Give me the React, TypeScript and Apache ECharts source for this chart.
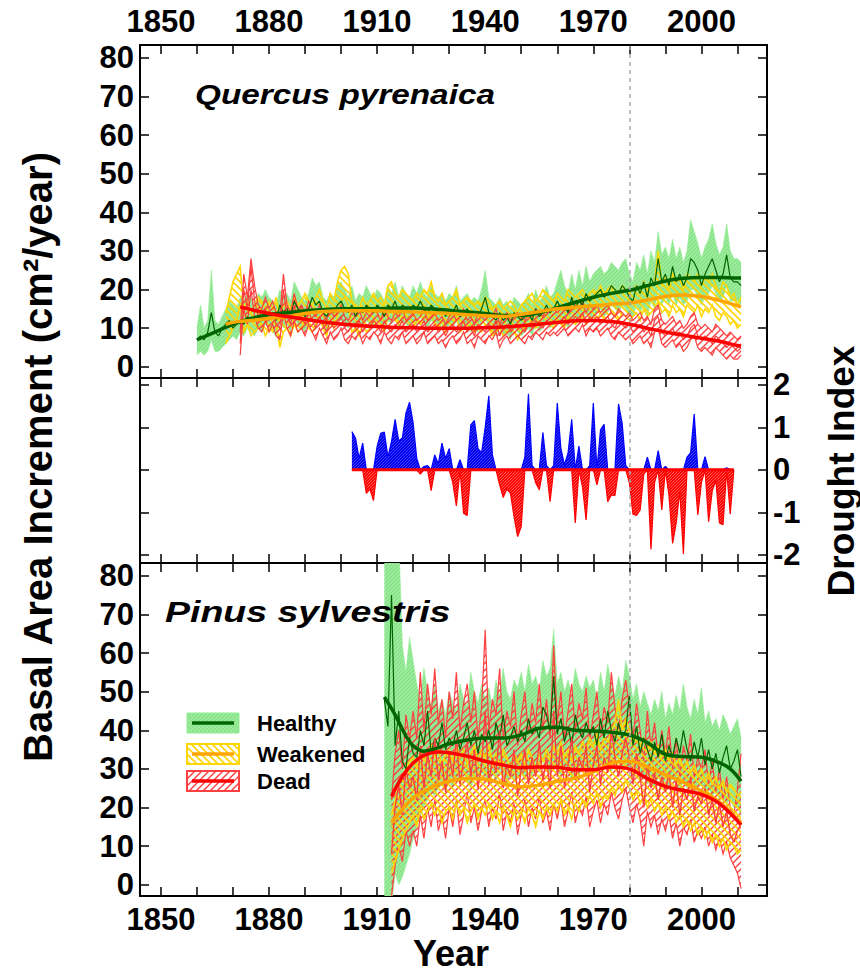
import React, { useEffect, useRef } from 'react';
import * as echarts from 'echarts';

// ---------- axes ----------
const X_MIN = 1844.2;
const X_MAX = 2018.2;
const X_TICKS = [1850, 1860, 1870, 1880, 1890, 1900, 1910, 1920, 1930, 1940, 1950, 1960, 1970, 1980, 1990, 2000, 2010];
const X_LABELS = [1850, 1880, 1910, 1940, 1970, 2000];
const BAI_TICKS = [0, 10, 20, 30, 40, 50, 60, 70, 80];
const BAI_MIN = -2.9;
const BAI_MAX = 83.3;
const DROUGHT_TICKS = [-2, -1, 0, 1, 2];
const DROUGHT_MIN = -2.19;
const DROUGHT_MAX = 2.16;
const REF_YEAR = 1980;

// ---------- Quercus pyrenaica ----------
const QP_HEALTHY_START = 1860;
const qpHealthyMean = [
  7, 8, 7, 9, 14, 9, 8, 10, 11, 12,
  10, 11, 12, 11, 13, 12, 12, 13, 12, 14,
  14, 13, 12, 16, 14, 15, 13, 17, 15, 14,
  13, 15, 18, 16, 17, 14, 13, 15, 14, 16,
  17, 15, 14, 16, 13, 15, 14, 16, 15, 14,
  16, 15, 13, 16, 15, 17, 14, 16, 15, 14,
  16, 15, 17, 15, 14, 16, 15, 14, 15, 13,
  15, 14, 16, 13, 14, 15, 13, 14, 13, 15,
  18, 14, 13, 12, 14, 12, 13, 11, 14, 13,
  12, 13, 14, 12, 15, 13, 14, 16, 14, 15,
  17, 15, 16, 14, 18, 15, 17, 16, 19, 17,
  18, 19, 20, 18, 19, 21, 20, 19, 21, 20,
  18, 17, 21, 19, 22, 18, 23, 21, 28, 22,
  24, 21, 26, 22, 24, 21, 23, 28, 27, 25,
  21, 24, 26, 28, 25, 22, 24, 29, 23, 22,
  22, 21,
];
const qpHealthyLow = [
  3, 4, 3, 4, 7, 4, 4, 5, 6, 7,
  8, 7, 9, 8, 10, 9, 8, 10, 9, 11,
  10, 9, 8, 12, 10, 11, 9, 13, 11, 10,
  9, 11, 13, 12, 12, 10, 9, 11, 10, 12,
  12, 11, 10, 12, 9, 11, 10, 12, 11, 10,
  12, 11, 9, 12, 11, 13, 10, 12, 11, 10,
  12, 11, 13, 11, 10, 12, 11, 10, 11, 9,
  11, 10, 12, 9, 10, 11, 9, 10, 9, 11,
  13, 10, 9, 8, 10, 8, 9, 7, 10, 9,
  8, 9, 10, 8, 11, 9, 10, 12, 10, 11,
  12, 11, 12, 10, 13, 11, 12, 12, 14, 12,
  13, 14, 15, 13, 14, 16, 15, 14, 16, 15,
  13, 13, 16, 14, 16, 13, 17, 15, 20, 16,
  18, 16, 19, 16, 18, 16, 17, 20, 20, 18,
  16, 18, 19, 21, 19, 17, 18, 21, 17, 17,
  17, 16,
];
const qpHealthyHigh = [
  10, 16, 10, 12, 25, 12, 11, 13, 15, 17,
  16, 15, 18, 17, 19, 18, 16, 19, 18, 20,
  18, 17, 16, 20, 18, 19, 17, 22, 20, 18,
  17, 19, 23, 21, 22, 18, 17, 19, 18, 21,
  22, 20, 18, 21, 17, 19, 18, 21, 19, 18,
  20, 19, 17, 21, 19, 22, 18, 21, 19, 18,
  21, 19, 22, 19, 18, 21, 19, 18, 19, 17,
  19, 18, 21, 17, 18, 19, 17, 18, 17, 20,
  25, 18, 17, 16, 18, 16, 17, 15, 18, 17,
  16, 17, 19, 16, 20, 17, 18, 21, 18, 19,
  22, 25, 21, 19, 24, 20, 25, 21, 26, 22,
  24, 25, 26, 24, 25, 27, 26, 25, 27, 28,
  24, 22, 27, 25, 29, 24, 30, 27, 35, 29,
  31, 28, 33, 28, 31, 27, 30, 38, 35, 32,
  28, 31, 33, 37, 32, 29, 31, 37, 30, 28,
  28, 27,
];
const QP_WEAK_START = 1868;
const qpWeakLow = [
  6, 8,
  10, 12, 16, 9, 11, 8, 9, 10, 11, 8,
  10, 9, 11, 5, 9, 10, 8, 11, 9, 10,
  12, 10, 9, 11, 13, 10, 8, 12, 10, 13,
  17, 18, 16, 9, 10, 8, 11, 9, 10, 12,
  10, 11, 9, 13, 15, 12, 11, 13, 12, 11,
  10, 12, 11, 13, 12, 14, 11, 10, 12, 9,
  10, 11, 13, 9, 10, 11, 10, 9, 10, 9,
  11, 10, 8, 9, 10, 8, 9, 10, 9, 7,
  9, 10, 11, 12, 10, 11, 13, 12, 11, 10,
  12, 11, 10, 13, 12, 11, 12, 13, 11, 12,
  13, 12, 14, 12, 13, 14, 13, 12, 14, 13,
  12, 13, 14, 12, 15, 13, 14, 15, 17, 14,
  15, 13, 16, 14, 15, 13, 16, 15, 14, 16,
  13, 15, 14, 16, 13, 12, 14, 13, 11, 12,
  10, 11,
];
const qpWeakHigh = [
  14, 18,
  22, 24, 26, 15, 17, 14, 16, 18, 17, 15,
  17, 15, 18, 12, 16, 17, 15, 18, 16, 17,
  19, 17, 16, 18, 20, 17, 15, 19, 17, 22,
  25, 26, 24, 17, 16, 15, 18, 16, 17, 19,
  17, 18, 16, 21, 22, 19, 18, 20, 19, 18,
  17, 19, 18, 20, 19, 22, 18, 17, 19, 16,
  17, 18, 20, 16, 17, 18, 17, 16, 17, 16,
  18, 17, 15, 16, 17, 15, 16, 17, 16, 14,
  16, 17, 18, 19, 17, 18, 20, 19, 18, 17,
  19, 18, 17, 20, 19, 18, 19, 20, 18, 19,
  20, 19, 21, 19, 20, 21, 20, 19, 21, 20,
  19, 20, 21, 19, 22, 20, 21, 22, 30, 21,
  23, 20, 24, 22, 23, 20, 24, 23, 22, 24,
  21, 23, 22, 24, 21, 19, 22, 21, 18, 19,
  16, 18,
];
const QP_DEAD_START = 1872;
const qpDeadMean = [
  6, 20, 15, 26, 17, 13, 12, 15,
  12, 14, 11, 10, 20, 13, 11, 16, 12, 13,
  11, 14, 12, 10, 13, 11, 9, 12, 10, 11,
  13, 10, 9, 11, 10, 12, 9, 11, 10, 12,
  11, 9, 12, 10, 9, 11, 10, 12, 9, 10,
  11, 9, 10, 12, 9, 10, 11, 9, 10, 8,
  10, 11, 9, 10, 12, 9, 10, 8, 11, 10,
  9, 11, 10, 12, 8, 10, 11, 9, 10, 11,
  10, 9, 11, 10, 12, 11, 10, 12, 11, 12,
  11, 12, 13, 11, 12, 13, 12, 14, 11, 13,
  12, 13, 11, 12, 13, 11, 10, 12, 11, 10,
  11, 9, 10, 11, 9, 10, 8, 12, 13, 9,
  8, 9, 10, 8, 9, 7, 8, 10, 11, 8,
  7, 8, 7, 6, 8, 7, 6, 5, 6, 5,
  4, 5,
];
const qpDeadLow = [
  3, 15, 11, 20, 13, 10, 9, 12,
  9, 11, 8, 7, 14, 10, 8, 12, 9, 10,
  8, 11, 9, 7, 10, 8, 6, 9, 7, 8,
  10, 7, 6, 8, 7, 9, 6, 8, 7, 9,
  8, 6, 9, 7, 6, 8, 7, 9, 6, 7,
  8, 6, 7, 9, 6, 7, 8, 6, 7, 5,
  7, 8, 6, 7, 9, 6, 7, 5, 8, 7,
  6, 8, 7, 9, 5, 7, 8, 6, 7, 8,
  7, 6, 8, 7, 9, 8, 7, 9, 8, 9,
  8, 9, 10, 8, 9, 10, 9, 11, 8, 10,
  9, 10, 8, 9, 10, 8, 7, 9, 8, 7,
  8, 6, 7, 8, 6, 7, 5, 9, 10, 6,
  5, 6, 7, 5, 6, 4, 5, 7, 8, 5,
  4, 5, 4, 3, 5, 4, 3, 2, 3, 2,
  2, 3,
];
const qpDeadHigh = [
  9, 24, 18, 28, 21, 16, 15, 18,
  15, 17, 14, 13, 24, 16, 14, 19, 15, 16,
  14, 17, 15, 13, 16, 14, 12, 15, 13, 14,
  16, 13, 12, 14, 13, 15, 12, 14, 13, 15,
  14, 12, 15, 13, 12, 14, 13, 15, 12, 13,
  14, 12, 13, 15, 12, 13, 14, 12, 13, 11,
  13, 14, 12, 13, 15, 12, 13, 11, 14, 13,
  12, 14, 13, 15, 11, 13, 14, 12, 13, 14,
  13, 12, 14, 13, 15, 14, 13, 15, 14, 15,
  14, 15, 16, 14, 15, 16, 15, 17, 14, 16,
  15, 16, 14, 15, 16, 14, 13, 15, 14, 13,
  14, 12, 13, 14, 12, 13, 11, 15, 16, 12,
  11, 12, 13, 11, 12, 10, 11, 13, 14, 11,
  10, 11, 10, 9, 11, 10, 9, 8, 9, 8,
  7, 8,
];
const qpHealthySmoothYears = [1860, 1865, 1870, 1875, 1880, 1885, 1890, 1895, 1900, 1905, 1910, 1915, 1920, 1925, 1930, 1935, 1940, 1945, 1950, 1955, 1960, 1965, 1970, 1975, 1980, 1985, 1990, 1995, 2000, 2005, 2010, 2011];
const qpHealthySmooth = [7, 9, 11, 12.5, 13.5, 14, 14.5, 14.8, 15, 15, 15, 15.2, 15.2, 15, 14.6, 14.2, 13.8, 13.3, 13.3, 14, 15.3, 16.7, 18, 19, 19.8, 21, 22.2, 22.9, 23.1, 23.1, 23, 23];
const qpWeakSmoothYears = [1868, 1870, 1875, 1880, 1885, 1890, 1895, 1900, 1905, 1910, 1915, 1920, 1925, 1930, 1935, 1940, 1945, 1950, 1955, 1960, 1965, 1970, 1975, 1980, 1985, 1990, 1995, 2000, 2005, 2010, 2011];
const qpWeakSmooth = [11, 11.5, 12, 12.5, 13, 13.8, 14.3, 14.5, 14.5, 14.5, 14.3, 14.2, 14, 13.8, 13.5, 13.2, 13, 13.6, 14.3, 15, 15.4, 15.8, 16.2, 16.5, 17.3, 18.2, 18.6, 18.2, 17.2, 15.8, 15.5];
const qpDeadSmoothYears = [1872, 1875, 1880, 1885, 1890, 1895, 1900, 1905, 1910, 1915, 1920, 1925, 1930, 1935, 1940, 1945, 1950, 1955, 1960, 1965, 1970, 1975, 1980, 1985, 1990, 1995, 2000, 2005, 2010, 2011];
const qpDeadSmooth = [15.5, 14.8, 13.8, 13, 12.3, 11.6, 11.1, 10.7, 10.4, 10.2, 10.1, 10, 10, 10, 10.1, 10.3, 10.6, 11, 11.5, 11.9, 12, 11.7, 11, 10, 9, 8.2, 7.4, 6.6, 5.5, 5.3];

// ---------- Drought index ----------
const DROUGHT_START = 1903;
const droughtIndex = [
  0.9, 0.75, 0.27, 0.63, -0.55, -0.45, -0.72,
  0.55, 0.86, 0.89, 0.3, 0.67, 1.19, 0.68, 0.75, 1.33, 1.59,
  1.1, 0.27, -0.1, 0.08, 0.1, -0.49, 0.35, 0.14, 0.63, 0.27,
  0.5, -0.3, -0.85, 0.24, -1.02, -1.07, 1.06, 1.16, 0.5, 0.4,
  1.0, 1.74, 0.35, 0.0, -0.35, -0.65, -0.45, -0.55, -1.1, -1.57,
  -1.33, 0.3, 1.79, 0.1, -0.3, -0.47, 0.88, 0.1, -0.75, 0.1,
  1.57, 0.5, 0.12, 0.4, 1.19, -1.25, 0.56, -0.4, -1.18, 0.1,
  1.57, -0.35, 0.94, 1.07, -0.75, -0.59, -0.6, 1.55, 1.1, 0.1,
  -0.3, -1.04, -1.07, -0.94, -0.1, 0.3, -1.87, -0.3, 0.45, -0.94,
  0.08, -0.6, -1.73, -1.25, -0.5, -1.98, 0.3, 0.4, 1.31, -1.06,
  -0.3, 0.31, -1.22, -0.5, -0.24, -1.25, -1.29, 0.05, -1.04, 0.0,
];

// ---------- Pinus sylvestris ----------
const PS_HEALTHY_START = 1912;
const psHealthyMean = [
  48, 41, 75, 36, 45, 32, 30, 38,
  34, 33, 40, 36, 45, 34, 38, 36, 42, 35,
  38, 36, 40, 35, 38, 42, 36, 40, 34, 39,
  37, 40, 35, 42, 38, 44, 36, 38, 41, 37,
  40, 37, 43, 39, 41, 38, 46, 44, 40, 54,
  39, 43, 37, 41, 36, 44, 40, 38, 42, 39,
  41, 36, 43, 38, 45, 40, 37, 42, 38, 40,
  49, 36, 41, 34, 38, 35, 32, 37, 33, 39,
  32, 36, 33, 38, 34, 40, 35, 32, 37, 33,
  38, 31, 35, 30, 34, 29, 33, 36, 30, 32,
  35, 28,
];
const psHealthyLow = [
  -5, -5, -5, 3, 0, 2, 5, 8,
  12, 15, 18, 20, 22, 24, 23, 25, 26, 24,
  27, 25, 28, 26, 29, 27, 25, 28, 27, 29,
  28, 26, 29, 27, 30, 28, 26, 29, 27, 28,
  29, 27, 30, 28, 31, 29, 32, 30, 29, 31,
  30, 28, 31, 29, 27, 30, 28, 31, 29, 30,
  31, 29, 32, 30, 31, 29, 32, 33, 30, 31,
  30, 28, 29, 27, 28, 26, 27, 25, 28, 26,
  27, 25, 28, 26, 24, 27, 25, 26, 24, 25,
  26, 24, 25, 23, 24, 22, 23, 21, 22, 20,
  20, 18,
];
const psHealthyHigh = [
  95, 95, 95, 95, 90, 62, 55, 64,
  58, 52, 48, 56, 50, 46, 52, 45, 48, 44,
  50, 47, 45, 52, 48, 46, 55, 50, 47, 52,
  48, 51, 46, 53, 49, 56, 50, 48, 53, 51,
  55, 50, 57, 52, 54, 50, 58, 54, 56, 66,
  52, 55, 50, 53, 49, 56, 52, 50, 54, 51,
  53, 48, 55, 50, 57, 52, 49, 54, 50, 58,
  54, 48, 52, 46, 50, 47, 44, 48, 45, 50,
  43, 47, 44, 49, 45, 52, 46, 43, 48, 44,
  51, 42, 45, 41, 43, 40, 44, 42, 39, 41,
  43, 38,
];
const PS_WEAK_START = 1914;
const psWeakLow = [
  3, 6, 9, 12, 14, 16,
  18, 15, 20, 17, 19, 21, 18, 20, 16, 19,
  20, 17, 21, 18, 20, 16, 19, 21, 17, 20,
  18, 21, 17, 19, 16, 20, 18, 15, 19, 17,
  19, 16, 20, 18, 15, 19, 17, 20, 18, 21,
  19, 22, 18, 20, 17, 21, 19, 22, 20, 23,
  21, 24, 20, 23, 22, 25, 23, 26, 24, 27,
  25, 22, 24, 21, 23, 20, 22, 19, 21, 18,
  20, 17, 19, 16, 18, 15, 17, 14, 16, 13,
  15, 12, 14, 11, 13, 10, 12, 9, 11, 10,
  8, 9,
];
const psWeakHigh = [
  18, 22, 26, 28, 30, 32,
  33, 30, 35, 32, 34, 36, 33, 35, 31, 34,
  35, 32, 36, 33, 35, 31, 34, 36, 32, 35,
  33, 36, 32, 34, 31, 35, 33, 30, 34, 32,
  34, 31, 35, 33, 30, 34, 32, 35, 33, 36,
  34, 37, 33, 35, 32, 36, 34, 37, 35, 38,
  36, 39, 35, 38, 37, 40, 42, 48, 40, 43,
  40, 37, 39, 36, 38, 35, 37, 34, 36, 33,
  35, 32, 34, 31, 33, 30, 32, 29, 31, 28,
  30, 27, 29, 26, 28, 25, 27, 24, 26, 25,
  23, 24,
];
const PS_DEAD_START = 1914;
const psDeadMean = [
  8, 20, 26, 18, 30, 25,
  28, 22, 36, 25, 34, 28, 38, 27, 32, 24,
  34, 28, 38, 26, 32, 37, 28, 35, 25, 31,
  45, 26, 33, 29, 40, 25, 31, 28, 35, 23,
  30, 35, 26, 33, 28, 37, 27, 33, 25, 45,
  28, 36, 25, 31, 38, 27, 33, 30, 36, 24,
  31, 36, 26, 33, 29, 40, 33, 28, 34, 38,
  33, 26, 34, 28, 20, 31, 25, 29, 22, 28,
  24, 29, 20, 27, 18, 25, 22, 28, 19, 23,
  21, 25, 18, 22, 16, 21, 15, 19, 13, 11,
  14, 16,
];
const psDeadLow = [
  -3, 5, 10, 6, 14, 10,
  14, 10, 18, 12, 20, 15, 22, 14, 18, 12,
  20, 15, 22, 13, 18, 24, 16, 20, 14, 19,
  22, 15, 20, 17, 24, 14, 19, 16, 21, 13,
  18, 22, 15, 20, 17, 23, 16, 19, 14, 21,
  17, 22, 15, 19, 24, 16, 20, 18, 23, 15,
  19, 22, 16, 21, 18, 24, 20, 17, 22, 25,
  20, 16, 21, 17, 10, 19, 15, 18, 13, 17,
  14, 18, 12, 16, 10, 15, 13, 17, 11, 14,
  12, 15, 10, 13, 9, 12, 8, 11, 7, 5,
  3, -1,
];
const psDeadHigh = [
  22, 34, 40, 30, 44, 38,
  45, 38, 55, 40, 52, 44, 56, 42, 48, 38,
  50, 43, 55, 40, 47, 52, 42, 50, 38, 46,
  66, 40, 48, 44, 56, 38, 45, 41, 50, 36,
  44, 50, 39, 47, 42, 52, 40, 48, 38, 62,
  42, 50, 38, 45, 52, 40, 47, 43, 51, 37,
  44, 50, 39, 46, 42, 55, 46, 40, 48, 53,
  46, 38, 47, 40, 32, 45, 36, 42, 33, 40,
  34, 41, 30, 38, 28, 36, 32, 39, 28, 33,
  30, 35, 26, 32, 24, 30, 22, 28, 20, 18,
  25, 34,
];
const psHealthySmoothYears = [1912, 1915, 1918, 1920, 1923, 1926, 1930, 1935, 1940, 1945, 1950, 1955, 1960, 1965, 1970, 1975, 1980, 1985, 1990, 1995, 2000, 2005, 2008, 2011];
const psHealthySmooth = [48.6, 44, 38.5, 36, 34.6, 35.2, 36.5, 37.5, 38, 38, 38.8, 40.5, 40.8, 40, 39.8, 39.5, 38.8, 36.8, 33.8, 33.2, 33, 31.6, 30, 26.8];
const psWeakSmoothYears = [1914, 1917, 1920, 1923, 1927, 1930, 1935, 1940, 1945, 1950, 1955, 1960, 1965, 1970, 1975, 1980, 1985, 1990, 1995, 2000, 2005, 2011];
const psWeakSmooth = [16, 19.5, 22.5, 24.2, 26, 26.8, 27.5, 27.3, 26.2, 25.4, 25.8, 26.8, 27.6, 29.2, 31.5, 32, 30.5, 28.5, 26.5, 24.3, 21.5, 16];
const psDeadSmoothYears = [1914, 1917, 1920, 1923, 1927, 1930, 1935, 1940, 1945, 1950, 1955, 1960, 1965, 1970, 1975, 1980, 1985, 1990, 1995, 2000, 2005, 2011];
const psDeadSmooth = [22.9, 28, 31.5, 33.5, 34.4, 34.2, 33.3, 32, 31, 30.3, 30.5, 30.4, 29.8, 29.8, 30.5, 30, 27.5, 25.5, 24.4, 23.4, 21, 15.5];

// ---------- texts ----------
const LEGEND_LABELS = ['Healthy', 'Weakened', 'Dead'];
const TITLE_TOP = 'Quercus pyrenaica';
const TITLE_BOTTOM = 'Pinus sylvestris';
const Y_TITLE = 'Basal Area Increment (cm\u00B2/year)';
const Y2_TITLE = 'Drought Index';
const X_TITLE = 'Year';

const FONT = '"Liberation Sans", Arial, Helvetica, sans-serif';

function hatch(bg: string | null, fg: string, dir: '/' | '\\', size: number, lw: number) {
  const c = document.createElement('canvas');
  c.width = size;
  c.height = size;
  const ctx = c.getContext('2d')!;
  if (bg) {
    ctx.fillStyle = bg;
    ctx.fillRect(0, 0, size, size);
  }
  ctx.strokeStyle = fg;
  ctx.lineWidth = lw;
  ctx.beginPath();
  if (dir === '/') {
    ctx.moveTo(-1, size + 1); ctx.lineTo(size + 1, -1);
    ctx.moveTo(-1, 1); ctx.lineTo(1, -1);
    ctx.moveTo(size - 1, size + 1); ctx.lineTo(size + 1, size - 1);
  } else {
    ctx.moveTo(-1, -1); ctx.lineTo(size + 1, size + 1);
    ctx.moveTo(-1, size - 1); ctx.lineTo(1, size + 1);
    ctx.moveTo(size - 1, -1); ctx.lineTo(size + 1, 1);
  }
  ctx.stroke();
  return { image: c, repeat: 'repeat', imageWidth: size, imageHeight: size } as any;
}

export default function App() {
  const ref = useRef<HTMLDivElement>(null);

  useEffect(() => {
    const chart = echarts.init(ref.current!, null, { renderer: 'svg' });

    const greenFill = hatch('#98eb98', '#84dc84', '/', 4, 1);
    const yellowFill = hatch(null, '#FFD400', '\\', 7, 1.6);
    const redFill = hatch(null, '#FF3B3B', '/', 7, 1.4);
    const blueFill = hatch('#0000EE', '#5050ff', '/', 3, 0.8);
    const negFill = hatch('#FF0000', '#ff7070', '/', 3, 0.8);

    const GREEN_BAND = '#90EE90';
    const YELLOW = '#FFD700';
    const RED_EDGE = '#FF4040';
    const DARK_GREEN = '#006400';
    const ORANGE = '#FFA500';
    const RED = '#FF0000';

    const refLine = {
      silent: true,
      symbol: ['none', 'none'],
      label: { show: false },
      lineStyle: { color: '#aaaaaa', type: [4, 4], width: 1.5 },
      data: [{ xAxis: REF_YEAR }],
    };

    const pairs = (start: number, arr: number[]) => arr.map((v, i) => [start + i, v]);
    const zip = (xs: number[], ys: number[]) => xs.map((x, i) => [x, ys[i]]);

    // ribbon between low and high, drawn through the cartesian scale (api.coord)
    function band(start: number, lo: number[], hi: number[], gi: number, fill: any, edge: string, edgeW: number) {
      const data = lo.map((v, i) => [start + i, v, hi[i]]);
      return {
        type: 'custom', xAxisIndex: gi * 2, yAxisIndex: gi * 2, silent: true, clip: true, z: 2,
        encode: { x: 0, y: [1, 2] },
        data,
        renderItem: (params: any, api: any) => {
          if (params.dataIndex !== 0) return null;
          const upper = data.map((d) => api.coord([d[0], d[2]]));
          const lower = data.map((d) => api.coord([d[0], d[1]]));
          const poly = upper.concat(lower.slice().reverse());
          return {
            type: 'group',
            children: [
              { type: 'polygon', shape: { points: poly }, style: { fill, stroke: null } },
              { type: 'polyline', shape: { points: upper }, style: { stroke: edge, lineWidth: edgeW, fill: null } },
              { type: 'polyline', shape: { points: lower }, style: { stroke: edge, lineWidth: edgeW, fill: null } },
            ],
          };
        },
      };
    }

    function line(data: number[][], gi: number, color: string, width: number, smooth: boolean | number = false, z = 3) {
      return {
        type: 'line', xAxisIndex: gi * 2, yAxisIndex: gi * 2, symbol: 'none', silent: true,
        data, smooth, lineStyle: { color, width }, z,
      };
    }

    function refCarrier(gi: number, data: number[][]) {
      return {
        type: 'line', xAxisIndex: gi * 2, yAxisIndex: gi * 2, symbol: 'none', silent: true,
        data, lineStyle: { opacity: 0, width: 0 }, z: 1, markLine: refLine,
      };
    }

    const axisLineStyle = { color: '#000', width: 2 };
    const tickStyle = { color: '#000', width: 1.5 };
    const labelStyle = { fontSize: 31, fontWeight: 'bold', fontFamily: FONT, color: '#000', formatter: (v: number) => String(v) };

    const xAxis: any[] = [];
    const yAxis: any[] = [];
    [0, 1, 2].forEach((gi) => {
      xAxis.push({
        type: 'value', gridIndex: gi, position: 'bottom', min: X_MIN, max: X_MAX,
        axisLine: { show: true, onZero: false, lineStyle: axisLineStyle },
        axisTick: { show: true, inside: true, length: 9, lineStyle: tickStyle, customValues: X_TICKS },
        axisLabel: { show: gi === 2, customValues: X_LABELS, margin: 8, ...labelStyle },
        splitLine: { show: false },
      });
      xAxis.push({
        type: 'value', gridIndex: gi, position: 'top', min: X_MIN, max: X_MAX,
        axisLine: { show: true, onZero: false, lineStyle: axisLineStyle },
        axisTick: { show: true, inside: true, length: 9, lineStyle: tickStyle, customValues: X_TICKS },
        axisLabel: { show: gi === 0, customValues: X_LABELS, margin: 8, ...labelStyle },
        splitLine: { show: false },
      });
      const isDrought = gi === 1;
      const min = isDrought ? DROUGHT_MIN : BAI_MIN;
      const max = isDrought ? DROUGHT_MAX : BAI_MAX;
      const ticks = isDrought ? DROUGHT_TICKS : BAI_TICKS;
      yAxis.push({
        type: 'value', gridIndex: gi, position: 'left', min, max,
        axisLine: { show: true, onZero: false, lineStyle: axisLineStyle },
        axisTick: { show: true, inside: true, length: 9, lineStyle: tickStyle, customValues: ticks },
        axisLabel: { show: !isDrought, customValues: ticks, margin: 6, ...labelStyle },
        splitLine: { show: false },
      });
      yAxis.push({
        type: 'value', gridIndex: gi, position: 'right', min, max,
        axisLine: { show: true, onZero: false, lineStyle: axisLineStyle },
        axisTick: { show: true, inside: true, length: 9, lineStyle: tickStyle, customValues: ticks },
        axisLabel: { show: isDrought, customValues: ticks, margin: 6, ...labelStyle },
        splitLine: { show: false },
      });
    });

    const series: any[] = [
      // Quercus
      refCarrier(0, pairs(QP_HEALTHY_START, qpHealthyMean)),
      band(QP_HEALTHY_START, qpHealthyLow, qpHealthyHigh, 0, greenFill, GREEN_BAND, 0.6),
      band(QP_WEAK_START, qpWeakLow, qpWeakHigh, 0, yellowFill, YELLOW, 1.5),
      band(QP_DEAD_START, qpDeadLow, qpDeadHigh, 0, redFill, RED_EDGE, 1.2),
      line(pairs(QP_HEALTHY_START, qpHealthyMean), 0, DARK_GREEN, 1.2),
      line(pairs(QP_DEAD_START, qpDeadMean), 0, RED_EDGE, 1.2),
      line(zip(qpHealthySmoothYears, qpHealthySmooth), 0, DARK_GREEN, 3.5, 0.4, 4),
      line(zip(qpWeakSmoothYears, qpWeakSmooth), 0, ORANGE, 3.5, 0.4, 4),
      line(zip(qpDeadSmoothYears, qpDeadSmooth), 0, RED, 3.5, 0.4, 4),
      // Drought
      {
        type: 'line', xAxisIndex: 2, yAxisIndex: 2, symbol: 'none', silent: true,
        data: droughtIndex.map((v, i) => [DROUGHT_START + i, Math.max(0, v)]),
        lineStyle: { color: '#0000FF', width: 1.2 },
        areaStyle: { color: blueFill, opacity: 1 },
        markLine: refLine,
      },
      {
        type: 'line', xAxisIndex: 2, yAxisIndex: 2, symbol: 'none', silent: true,
        data: droughtIndex.map((v, i) => [DROUGHT_START + i, Math.min(0, v)]),
        lineStyle: { color: '#FF0000', width: 1.2 },
        areaStyle: { color: negFill, opacity: 1 },
      },
      {
        type: 'line', xAxisIndex: 2, yAxisIndex: 2, symbol: 'none', silent: true,
        data: [[DROUGHT_START, 0], [DROUGHT_START + droughtIndex.length - 1, 0]],
        lineStyle: { color: '#FF0000', width: 3 }, z: 4,
      },
      // Pinus
      refCarrier(2, pairs(PS_HEALTHY_START, psHealthyMean)),
      band(PS_HEALTHY_START, psHealthyLow, psHealthyHigh, 2, greenFill, GREEN_BAND, 0.6),
      band(PS_DEAD_START, psDeadLow, psDeadHigh, 2, redFill, RED_EDGE, 1.2),
      band(PS_WEAK_START, psWeakLow, psWeakHigh, 2, yellowFill, YELLOW, 1.5),
      line(pairs(PS_HEALTHY_START, psHealthyMean), 2, DARK_GREEN, 1.2),
      line(pairs(PS_DEAD_START, psDeadMean), 2, RED_EDGE, 1.4),
      line(zip(psHealthySmoothYears, psHealthySmooth), 2, DARK_GREEN, 3.5, 0.4, 4),
      line(zip(psWeakSmoothYears, psWeakSmooth), 2, ORANGE, 3.5, 0.4, 4),
      line(zip(psDeadSmoothYears, psDeadSmooth), 2, RED, 3.5, 0.4, 4),
    ];

    const titleFont = (size: number) => `italic bold ${size}px ${FONT}`;
    const legendFills = [greenFill, yellowFill, redFill];
    const legendStrokes = [GREEN_BAND, YELLOW, RED_EDGE];
    const legendLines = [DARK_GREEN, ORANGE, RED];
    const legendY = [723, 754, 781];

    const graphic: any[] = [
      {
        type: 'text', x: 195, y: 94, scaleX: 1.19, z: 10,
        style: { text: TITLE_TOP, font: titleFont(28), fill: '#000', align: 'left', verticalAlign: 'middle' },
      },
      {
        type: 'text', x: 165, y: 611, scaleX: 1.25, z: 10,
        style: { text: TITLE_BOTTOM, font: titleFont(30), fill: '#000', align: 'left', verticalAlign: 'middle' },
      },
      {
        type: 'text', x: 38, y: 457, rotation: Math.PI / 2, z: 10,
        style: { text: Y_TITLE, font: `bold 40px ${FONT}`, fill: '#000', align: 'center', verticalAlign: 'middle' },
      },
      {
        type: 'text', x: 841, y: 471, rotation: Math.PI / 2, z: 10,
        style: { text: Y2_TITLE, font: `bold 37px ${FONT}`, fill: '#000', align: 'center', verticalAlign: 'middle' },
      },
      {
        type: 'text', x: 451, y: 953, z: 10,
        style: { text: X_TITLE, font: `bold 36px ${FONT}`, fill: '#000', align: 'center', verticalAlign: 'middle' },
      },
    ];
    LEGEND_LABELS.forEach((lab, i) => {
      const cy = legendY[i];
      graphic.push({
        type: 'rect', z: 10,
        shape: { x: 187, y: cy - 10, width: 52, height: 20 },
        style: { fill: legendFills[i], stroke: legendStrokes[i], lineWidth: i === 0 ? 1 : 2 },
      });
      graphic.push({
        type: 'line', z: 11,
        shape: { x1: 192, y1: cy, x2: 234, y2: cy },
        style: { stroke: legendLines[i], lineWidth: 3.5 },
      });
      graphic.push({
        type: 'text', x: 257, y: cy, z: 11,
        style: { text: lab, font: `bold 22px ${FONT}`, fill: '#000', align: 'left', verticalAlign: 'middle' },
      });
    });

    chart.setOption({
      animation: false,
      backgroundColor: '#ffffff',
      grid: [
        { left: 140, top: 45, width: 627, height: 333 },
        { left: 140, top: 378, width: 627, height: 185 },
        { left: 140, top: 563, width: 627, height: 333 },
      ],
      xAxis,
      yAxis,
      series,
      graphic,
    });

    return () => chart.dispose();
  }, []);

  return <div ref={ref} style={{ position: 'absolute', left: 0, top: 0, width: 860, height: 973 }} />;
}
